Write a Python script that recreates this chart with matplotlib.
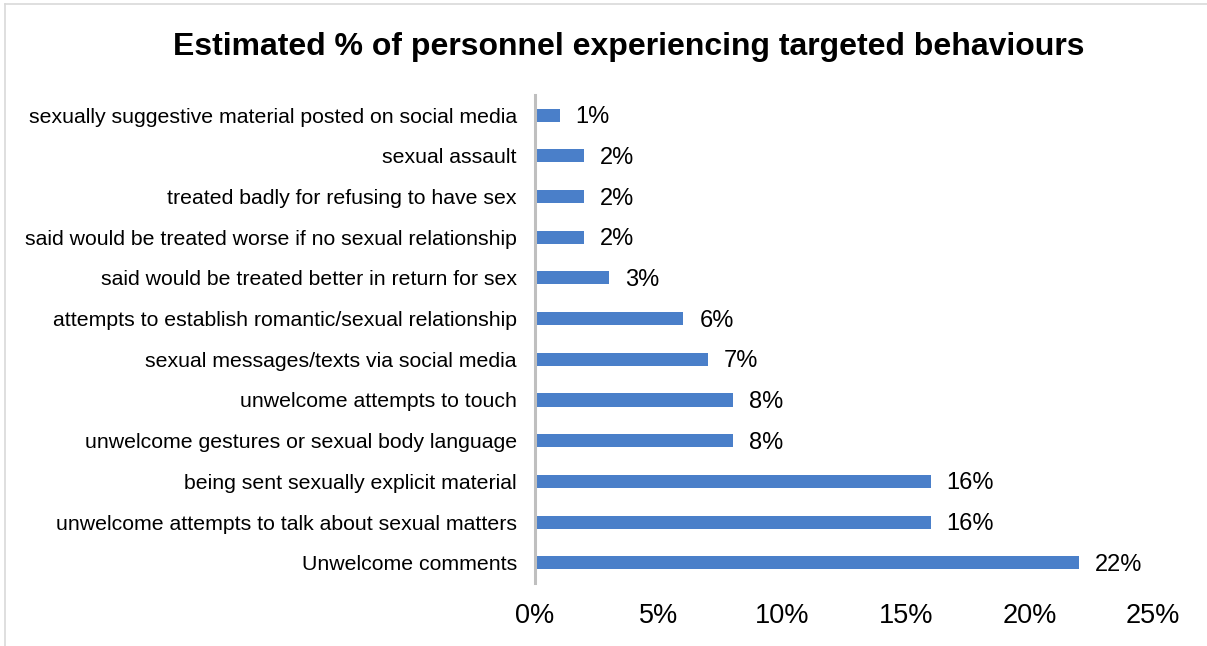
import matplotlib.pyplot as plt
from matplotlib.lines import Line2D

plt.rcParams['font.family'] = ['Liberation Sans', 'DejaVu Sans']

# behaviours listed bottom-to-top, as drawn on the y axis
behaviours = [
    'Unwelcome comments',
    'unwelcome attempts to talk about sexual matters',
    'being sent sexually explicit material',
    'unwelcome gestures or sexual body language',
    'unwelcome attempts to touch',
    'sexual messages/texts via social media',
    'attempts to establish romantic/sexual relationship',
    'said would be treated better in return for sex',
    'said would be treated worse if no sexual relationship',
    'treated badly for refusing to have sex',
    'sexual assault',
    'sexually suggestive material posted on social media',
]
percent = [22, 16, 16, 8, 8, 7, 6, 3, 2, 2, 2, 1]
x_ticks = [0, 5, 10, 15, 20, 25]

fig = plt.figure(figsize=(12.07, 6.46), dpi=100)
ax = fig.add_axes([0.4432, 0.0975, 0.5121, 0.7555])

pos = list(range(len(behaviours)))
ax.barh(pos, percent, height=0.32, color='#4A7FC9')

for y, v in zip(pos, percent):
    ax.annotate(f'{v}%', xy=(v, y), xytext=(11.5, -1.5), textcoords='offset points',
                ha='left', va='center', fontsize=17, color='black')

ax.set_xlim(0, 25)
ax.set_ylim(-0.5, len(behaviours) - 0.5)
ax.set_yticks(pos)
ax.set_yticklabels(behaviours, fontsize=15.3)
ax.set_xticks(x_ticks)
ax.set_xticklabels([f'{t}%' for t in x_ticks], fontsize=19.5)
ax.tick_params(axis='y', length=0, pad=13)
ax.tick_params(axis='x', length=0, pad=14.5)

for side in ['top', 'right', 'bottom']:
    ax.spines[side].set_visible(False)
ax.spines['left'].set_color('#BFBFBF')
ax.spines['left'].set_linewidth(2.2)

fig.text(0.5207, 0.928, 'Estimated % of personnel experiencing targeted behaviours',
         ha='center', va='center', fontsize=23, fontweight='bold')

# light frame round the chart area
fig.add_artist(Line2D([0.0045, 0.0045], [0, 0.994], transform=fig.transFigure,
                      color='#D9D9D9', lw=1.2))
fig.add_artist(Line2D([0.0045, 1], [0.994, 0.994], transform=fig.transFigure,
                      color='#D9D9D9', lw=1.2))

fig.savefig('out.png', dpi=100)
